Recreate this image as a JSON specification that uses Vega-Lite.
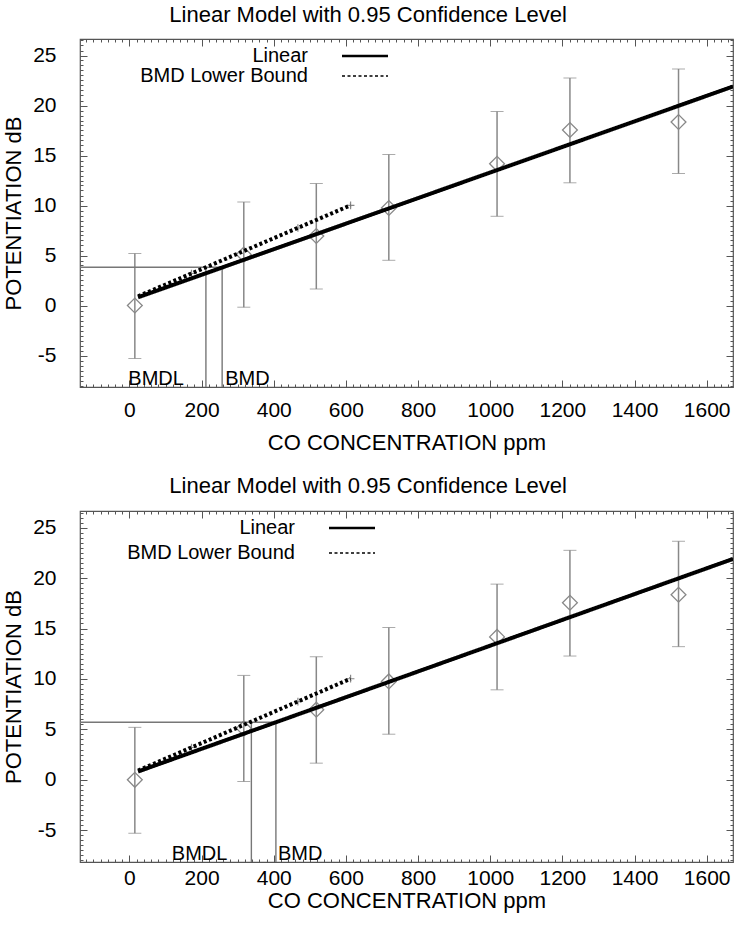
{
  "$schema": "https://vega.github.io/schema/vega-lite/v6.json",
  "padding": {"left": 2, "top": 2, "right": 6, "bottom": 4},
  "background": "white",
  "spacing": 19,
  "resolve": {"scale": {"strokeDash": "independent"}, "legend": {"strokeDash": "independent"}},
  "datasets": {
    "pts": [
      {"x": 15, "mean": 0, "lo": -5.3, "hi": 5.2},
      {"x": 317, "mean": 5.1, "lo": -0.17, "hi": 10.35},
      {"x": 518, "mean": 6.95, "lo": 1.65, "hi": 12.2},
      {"x": 719, "mean": 9.75, "lo": 4.52, "hi": 15.1},
      {"x": 1019, "mean": 14.17, "lo": 8.92, "hi": 19.4},
      {"x": 1221, "mean": 17.55, "lo": 12.27, "hi": 22.75},
      {"x": 1522, "mean": 18.35, "lo": 13.2, "hi": 23.65}
    ],
    "fit": [
      {"series": "Linear", "x": 24, "y": 0.82},
      {"series": "Linear", "x": 1673, "y": 21.9},
      {"series": "BMD Lower Bound", "x": 24, "y": 0.92},
      {"series": "BMD Lower Bound", "x": 613, "y": 10.02}
    ],
    "cross": [
      {"x": 172, "y": 3.2},
      {"x": 467, "y": 7.75},
      {"x": 613, "y": 10.02}
    ],
    "bmd": [
      {"panel": "top", "kind": "BMDL", "x": 212, "bmr": 3.82},
      {"panel": "top", "kind": "BMD", "x": 257, "bmr": 3.82},
      {"panel": "bottom", "kind": "BMDL", "x": 338, "bmr": 5.71},
      {"panel": "bottom", "kind": "BMD", "x": 406, "bmr": 5.71}
    ]
  },
  "config": {
    "font": "Liberation Sans",
    "view": {"stroke": "#555", "strokeWidth": 1.2},
    "axis": {"domain": false, "grid": false, "tickColor": "#555", "labelColor": "black", "titleColor": "black", "labelFont": "Liberation Sans", "titleFont": "Liberation Sans", "titleFontWeight": "normal", "labelExpr": "'' + datum.value"},
    "title": {"fontSize": 22, "fontWeight": "normal", "font": "Liberation Sans", "anchor": "middle", "frame": "bounds", "color": "black"}
  },
  "vconcat": [
    {
      "width": 653,
      "height": 348,
      "title": {"text": "Linear Model with 0.95 Confidence Level", "offset": 12},
      "resolve": {"axis": {"x": "independent", "y": "independent"}},
      "layer": [
        {
          "data": {"name": "pts"},
          "mark": {"type": "errorbar", "ticks": {"size": 13, "color": "#888", "strokeWidth": 1.3}, "rule": {"strokeWidth": 1.5, "color": "#888"}, "color": "#888"},
          "encoding": {
            "x": {"field": "x", "type": "quantitative", "scale": {"domain": [-137, 1673], "nice": false, "zero": false}, "axis": null},
            "y": {"field": "lo", "type": "quantitative", "scale": {"domain": [-8.15, 26.65], "nice": false, "zero": false}, "axis": null},
            "y2": {"field": "hi"}
          }
        },
        {
          "data": {"name": "pts"},
          "mark": {"type": "point", "shape": "diamond", "size": 220, "filled": false, "stroke": "#888", "strokeWidth": 1.3, "opacity": 1},
          "encoding": {
            "x": {"field": "x", "type": "quantitative", "scale": {"domain": [-137, 1673], "nice": false, "zero": false},
              "axis": {"orient": "bottom", "values": [0, 200, 400, 600, 800, 1000, 1200, 1400, 1600], "tickSize": -7, "labelPadding": 19, "labelFontSize": 21, "title": "CO CONCENTRATION ppm", "titleFontSize": 22, "titlePadding": 12}},
            "y": {"field": "mean", "type": "quantitative", "scale": {"domain": [-8.15, 26.65], "nice": false, "zero": false},
              "axis": {"orient": "left", "values": [-5, 0, 5, 10, 15, 20, 25], "tickSize": -7, "labelPadding": 31, "labelFontSize": 21, "title": "POTENTIATION dB", "titleFontSize": 22, "titlePadding": 7}}
          }
        },
        {
          "data": {"name": "cross"},
          "mark": {"type": "point", "shape": "M-1,0L1,0M0,-1L0,1", "size": 60, "filled": false, "stroke": "#888", "strokeWidth": 1.2, "opacity": 1},
          "encoding": {
            "x": {"field": "x", "type": "quantitative", "scale": {"domain": [-137, 1673], "nice": false, "zero": false}, "axis": null},
            "y": {"field": "y", "type": "quantitative", "scale": {"domain": [-8.15, 26.65], "nice": false, "zero": false}, "axis": null}
          }
        },
        {
          "data": {"name": "bmd"},
          "transform": [{"filter": "datum.panel === 'top'"}],
          "mark": {"type": "rule", "color": "#777", "strokeWidth": 1.4},
          "encoding": {
            "x": {"field": "x", "type": "quantitative", "scale": {"domain": [-137, 1673], "nice": false, "zero": false},
              "axis": {"orient": "bottom", "tickCount": 90, "tickSize": -3, "labels": false, "title": null}},
            "y": {"field": "bmr", "type": "quantitative", "scale": {"domain": [-8.15, 26.65], "nice": false, "zero": false},
              "axis": {"orient": "left", "tickCount": 70, "tickSize": -3, "labels": false, "title": null}},
            "y2": {"datum": -8.15}
          }
        },
        {
          "data": {"name": "bmd"},
          "transform": [{"filter": "datum.panel === 'top' && datum.kind === 'BMD'"}],
          "mark": {"type": "rule", "color": "#777", "strokeWidth": 1.4},
          "encoding": {
            "x": {"field": "x", "type": "quantitative", "scale": {"domain": [-137, 1673], "nice": false, "zero": false},
              "axis": {"orient": "top", "tickCount": 90, "tickSize": -3, "labels": false, "title": null}},
            "x2": {"datum": -137},
            "y": {"field": "bmr", "type": "quantitative", "scale": {"domain": [-8.15, 26.65], "nice": false, "zero": false},
              "axis": {"orient": "right", "tickCount": 70, "tickSize": -3, "labels": false, "title": null}}
          }
        },
        {
          "data": {"name": "fit"},
          "mark": {"type": "line", "color": "black", "strokeWidth": 4, "strokeCap": "butt", "clip": true},
          "encoding": {
            "x": {"field": "x", "type": "quantitative", "scale": {"domain": [-137, 1673], "nice": false, "zero": false},
              "axis": {"orient": "top", "values": [0, 200, 400, 600, 800, 1000, 1200, 1400, 1600], "tickSize": -7, "labels": false, "title": null}},
            "y": {"field": "y", "type": "quantitative", "scale": {"domain": [-8.15, 26.65], "nice": false, "zero": false},
              "axis": {"orient": "right", "values": [-5, 0, 5, 10, 15, 20, 25], "tickSize": -7, "labels": false, "title": null}},
            "strokeDash": {"field": "series", "type": "nominal",
              "scale": {"domain": ["Linear", "BMD Lower Bound"], "range": [[1, 0], [3, 2.5]]},
              "legend": {"orient": "none", "legendX": 275, "legendY": 7, "title": null, "symbolType": "stroke", "symbolSize": 2116, "symbolStrokeColor": "black", "symbolStrokeWidth": 2.5, "labelAlign": "right", "labelOffset": -67, "labelFontSize": 20, "labelColor": "black", "labelLimit": 300, "rowPadding": -5,
                "encode": {"symbols": {"update": {"strokeDash": {"signal": "datum.value === 'Linear' ? [1,0] : [1.5,1.5]"}, "strokeWidth": {"signal": "datum.value === 'Linear' ? 2.5 : 1.5"}}}}}
            }
          }
        },
        {
          "data": {"name": "bmd"},
          "transform": [{"filter": "datum.panel === 'top' && datum.kind === 'BMDL'"}],
          "mark": {"type": "text", "align": "right", "baseline": "alphabetic", "dx": -22, "dy": -2, "fontSize": 20, "color": "black"},
          "encoding": {
            "x": {"field": "x", "type": "quantitative", "scale": {"domain": [-137, 1673], "nice": false, "zero": false}, "axis": null},
            "y": {"datum": -8.15, "type": "quantitative", "scale": {"domain": [-8.15, 26.65], "nice": false, "zero": false}, "axis": null},
            "text": {"field": "kind"}
          }
        },
        {
          "data": {"name": "bmd"},
          "transform": [{"filter": "datum.panel === 'top' && datum.kind === 'BMD'"}],
          "mark": {"type": "text", "align": "left", "baseline": "alphabetic", "dx": 3, "dy": -2, "fontSize": 20, "color": "black"},
          "encoding": {
            "x": {"field": "x", "type": "quantitative", "scale": {"domain": [-137, 1673], "nice": false, "zero": false}, "axis": null},
            "y": {"datum": -8.15, "type": "quantitative", "scale": {"domain": [-8.15, 26.65], "nice": false, "zero": false}, "axis": null},
            "text": {"field": "kind"}
          }
        }
      ]
    },
    {
      "width": 653,
      "height": 351,
      "title": {"text": "Linear Model with 0.95 Confidence Level", "offset": 13},
      "resolve": {"axis": {"x": "independent", "y": "independent"}},
      "layer": [
        {
          "data": {"name": "pts"},
          "mark": {"type": "errorbar", "ticks": {"size": 13, "color": "#888", "strokeWidth": 1.3}, "rule": {"strokeWidth": 1.5, "color": "#888"}, "color": "#888"},
          "encoding": {
            "x": {"field": "x", "type": "quantitative", "scale": {"domain": [-137, 1673], "nice": false, "zero": false}, "axis": null},
            "y": {"field": "lo", "type": "quantitative", "scale": {"domain": [-8.15, 26.65], "nice": false, "zero": false}, "axis": null},
            "y2": {"field": "hi"}
          }
        },
        {
          "data": {"name": "pts"},
          "mark": {"type": "point", "shape": "diamond", "size": 220, "filled": false, "stroke": "#888", "strokeWidth": 1.3, "opacity": 1},
          "encoding": {
            "x": {"field": "x", "type": "quantitative", "scale": {"domain": [-137, 1673], "nice": false, "zero": false},
              "axis": {"orient": "bottom", "values": [0, 200, 400, 600, 800, 1000, 1200, 1400, 1600], "tickSize": -7, "labelPadding": 12, "labelFontSize": 21, "title": "CO CONCENTRATION ppm", "titleFontSize": 22, "titlePadding": 2}},
            "y": {"field": "mean", "type": "quantitative", "scale": {"domain": [-8.15, 26.65], "nice": false, "zero": false},
              "axis": {"orient": "left", "values": [-5, 0, 5, 10, 15, 20, 25], "tickSize": -7, "labelPadding": 31, "labelFontSize": 21, "title": "POTENTIATION dB", "titleFontSize": 22, "titlePadding": 7}}
          }
        },
        {
          "data": {"name": "cross"},
          "mark": {"type": "point", "shape": "M-1,0L1,0M0,-1L0,1", "size": 60, "filled": false, "stroke": "#888", "strokeWidth": 1.2, "opacity": 1},
          "encoding": {
            "x": {"field": "x", "type": "quantitative", "scale": {"domain": [-137, 1673], "nice": false, "zero": false}, "axis": null},
            "y": {"field": "y", "type": "quantitative", "scale": {"domain": [-8.15, 26.65], "nice": false, "zero": false}, "axis": null}
          }
        },
        {
          "data": {"name": "bmd"},
          "transform": [{"filter": "datum.panel === 'bottom'"}],
          "mark": {"type": "rule", "color": "#777", "strokeWidth": 1.4},
          "encoding": {
            "x": {"field": "x", "type": "quantitative", "scale": {"domain": [-137, 1673], "nice": false, "zero": false},
              "axis": {"orient": "bottom", "tickCount": 90, "tickSize": -3, "labels": false, "title": null}},
            "y": {"field": "bmr", "type": "quantitative", "scale": {"domain": [-8.15, 26.65], "nice": false, "zero": false},
              "axis": {"orient": "left", "tickCount": 70, "tickSize": -3, "labels": false, "title": null}},
            "y2": {"datum": -8.15}
          }
        },
        {
          "data": {"name": "bmd"},
          "transform": [{"filter": "datum.panel === 'bottom' && datum.kind === 'BMD'"}],
          "mark": {"type": "rule", "color": "#777", "strokeWidth": 1.4},
          "encoding": {
            "x": {"field": "x", "type": "quantitative", "scale": {"domain": [-137, 1673], "nice": false, "zero": false},
              "axis": {"orient": "top", "tickCount": 90, "tickSize": -3, "labels": false, "title": null}},
            "x2": {"datum": -137},
            "y": {"field": "bmr", "type": "quantitative", "scale": {"domain": [-8.15, 26.65], "nice": false, "zero": false},
              "axis": {"orient": "right", "tickCount": 70, "tickSize": -3, "labels": false, "title": null}}
          }
        },
        {
          "data": {"name": "fit"},
          "mark": {"type": "line", "color": "black", "strokeWidth": 4, "strokeCap": "butt", "clip": true},
          "encoding": {
            "x": {"field": "x", "type": "quantitative", "scale": {"domain": [-137, 1673], "nice": false, "zero": false},
              "axis": {"orient": "top", "values": [0, 200, 400, 600, 800, 1000, 1200, 1400, 1600], "tickSize": -7, "labels": false, "title": null}},
            "y": {"field": "y", "type": "quantitative", "scale": {"domain": [-8.15, 26.65], "nice": false, "zero": false},
              "axis": {"orient": "right", "values": [-5, 0, 5, 10, 15, 20, 25], "tickSize": -7, "labels": false, "title": null}},
            "strokeDash": {"field": "series", "type": "nominal",
              "scale": {"domain": ["Linear", "BMD Lower Bound"], "range": [[1, 0], [3, 2.5]]},
              "legend": {"orient": "none", "legendX": 262, "legendY": 7, "title": null, "symbolType": "stroke", "symbolSize": 2116, "symbolStrokeColor": "black", "symbolStrokeWidth": 2.5, "labelAlign": "right", "labelOffset": -67, "labelFontSize": 20, "labelColor": "black", "labelLimit": 300, "rowPadding": 5,
                "encode": {"symbols": {"update": {"strokeDash": {"signal": "datum.value === 'Linear' ? [1,0] : [1.5,1.5]"}, "strokeWidth": {"signal": "datum.value === 'Linear' ? 2.5 : 1.5"}}}}}
            }
          }
        },
        {
          "data": {"name": "bmd"},
          "transform": [{"filter": "datum.panel === 'bottom' && datum.kind === 'BMDL'"}],
          "mark": {"type": "text", "align": "right", "baseline": "alphabetic", "dx": -24, "dy": -2, "fontSize": 20, "color": "black"},
          "encoding": {
            "x": {"field": "x", "type": "quantitative", "scale": {"domain": [-137, 1673], "nice": false, "zero": false}, "axis": null},
            "y": {"datum": -8.15, "type": "quantitative", "scale": {"domain": [-8.15, 26.65], "nice": false, "zero": false}, "axis": null},
            "text": {"field": "kind"}
          }
        },
        {
          "data": {"name": "bmd"},
          "transform": [{"filter": "datum.panel === 'bottom' && datum.kind === 'BMD'"}],
          "mark": {"type": "text", "align": "left", "baseline": "alphabetic", "dx": 2, "dy": -2, "fontSize": 20, "color": "black"},
          "encoding": {
            "x": {"field": "x", "type": "quantitative", "scale": {"domain": [-137, 1673], "nice": false, "zero": false}, "axis": null},
            "y": {"datum": -8.15, "type": "quantitative", "scale": {"domain": [-8.15, 26.65], "nice": false, "zero": false}, "axis": null},
            "text": {"field": "kind"}
          }
        }
      ]
    }
  ]
}
